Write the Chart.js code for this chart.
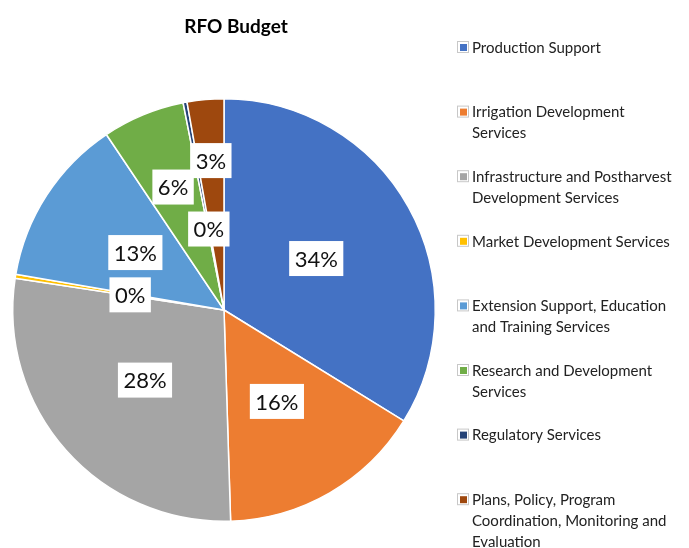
<!DOCTYPE html>
<html>
<head>
<meta charset="utf-8">
<script src="https://cdn.jsdelivr.net/npm/chart.js@4.4.0/dist/chart.umd.min.js"></script>
<style>
  html, body { margin: 0; padding: 0; background: #fff; }
</style>
</head>
<body>
<canvas id="out" width="689" height="548"></canvas>
<script>
// RFO budget shares by program (percent of total)
const categories = [
  "Production Support",
  "Irrigation Development Services",
  "Infrastructure and Postharvest Development Services",
  "Market Development Services",
  "Extension Support, Education and Training Services",
  "Research and Development Services",
  "Regulatory Services",
  "Plans, Policy, Program Coordination, Monitoring and Evaluation"
];
const legendLines = [
  ["Production Support"],
  ["Irrigation Development", "Services"],
  ["Infrastructure and Postharvest", "Development Services"],
  ["Market Development Services"],
  ["Extension Support, Education", "and Training Services"],
  ["Research and Development", "Services"],
  ["Regulatory Services"],
  ["Plans, Policy, Program", "Coordination, Monitoring and", "Evaluation"]
];
const shares = [33.8, 15.7, 27.9, 0.3, 12.9, 6.3, 0.3, 2.8];
const chartTitle = "RFO Budget";

const colors = ["#4472C4", "#ED7D31", "#A5A5A5", "#FFC000", "#5B9BD5", "#70AD47", "#264478", "#9E480E"];
// how far out along the slice each value label sits (fraction of radius)
const labelRadius = [0.5, 0.5, 0.5, 0.45, 0.5, 0.63, 0.39, 0.71];

const FONT = "Lato, 'Open Sans', sans-serif";

const valueLabels = {
  id: "valueLabels",
  afterDatasetsDraw(chart) {
    const ctx = chart.ctx;
    const meta = chart.getDatasetMeta(0);
    const data = chart.data.datasets[0].data;
    const total = data.reduce((a, b) => a + b, 0);
    ctx.save();
    ctx.font = "22px " + FONT;
    ctx.textAlign = "center";
    ctx.textBaseline = "middle";
    meta.data.forEach((arc, i) => {
      const p = arc.getProps(["x", "y", "startAngle", "endAngle", "outerRadius"], true);
      const mid = (p.startAngle + p.endAngle) / 2;
      const r = p.outerRadius * labelRadius[i];
      const x = p.x + Math.cos(mid) * r;
      const y = p.y + Math.sin(mid) * r;
      const text = Math.round(data[i] / total * 100) + "%";
      const w = ctx.measureText(text).width + 11;
      const h = 35;
      ctx.fillStyle = "#fff";
      ctx.fillRect(x - w / 2, y - h / 2, w, h);
      ctx.fillStyle = "#111";
      ctx.fillText(text, x, y + 1);
    });
    ctx.restore();
  }
};

const sideLegend = {
  id: "sideLegend",
  afterDraw(chart) {
    const ctx = chart.ctx;
    ctx.save();
    // title
    ctx.font = "bold 19px " + FONT;
    ctx.fillStyle = "#000";
    ctx.textAlign = "center";
    ctx.textBaseline = "middle";
    ctx.fillText(chartTitle, 236, 27);

    // legend entries
    ctx.font = "15px " + FONT;
    ctx.textAlign = "left";
    const top = 47, step = 64.6, lineH = 21;
    legendLines.forEach((lines, i) => {
      const y = top + i * step;
      ctx.fillStyle = "#fff";
      ctx.fillRect(457, y - 6, 12, 12);
      ctx.strokeStyle = "#c8c8c8";
      ctx.lineWidth = 1;
      ctx.strokeRect(457.5, y - 5.5, 11, 11);
      ctx.fillStyle = colors[i];
      ctx.fillRect(460, y - 3, 7, 7);
      ctx.fillStyle = "#222";
      lines.forEach((ln, k) => ctx.fillText(ln, 472, y + k * lineH + 1));
    });
    ctx.restore();
  }
};

new Chart(document.getElementById("out").getContext("2d"), {
  type: "pie",
  data: {
    labels: categories,
    datasets: [{
      data: shares,
      backgroundColor: colors,
      borderColor: "#fff",
      borderWidth: 1.5
    }]
  },
  options: {
    responsive: false,
    animation: false,
    layout: { padding: { left: 12, right: 253, top: 98, bottom: 26 } },
    plugins: {
      legend: { display: false },
      tooltip: { enabled: false },
      title: { display: false }
    }
  },
  plugins: [valueLabels, sideLegend]
});
</script>
</body>
</html>
